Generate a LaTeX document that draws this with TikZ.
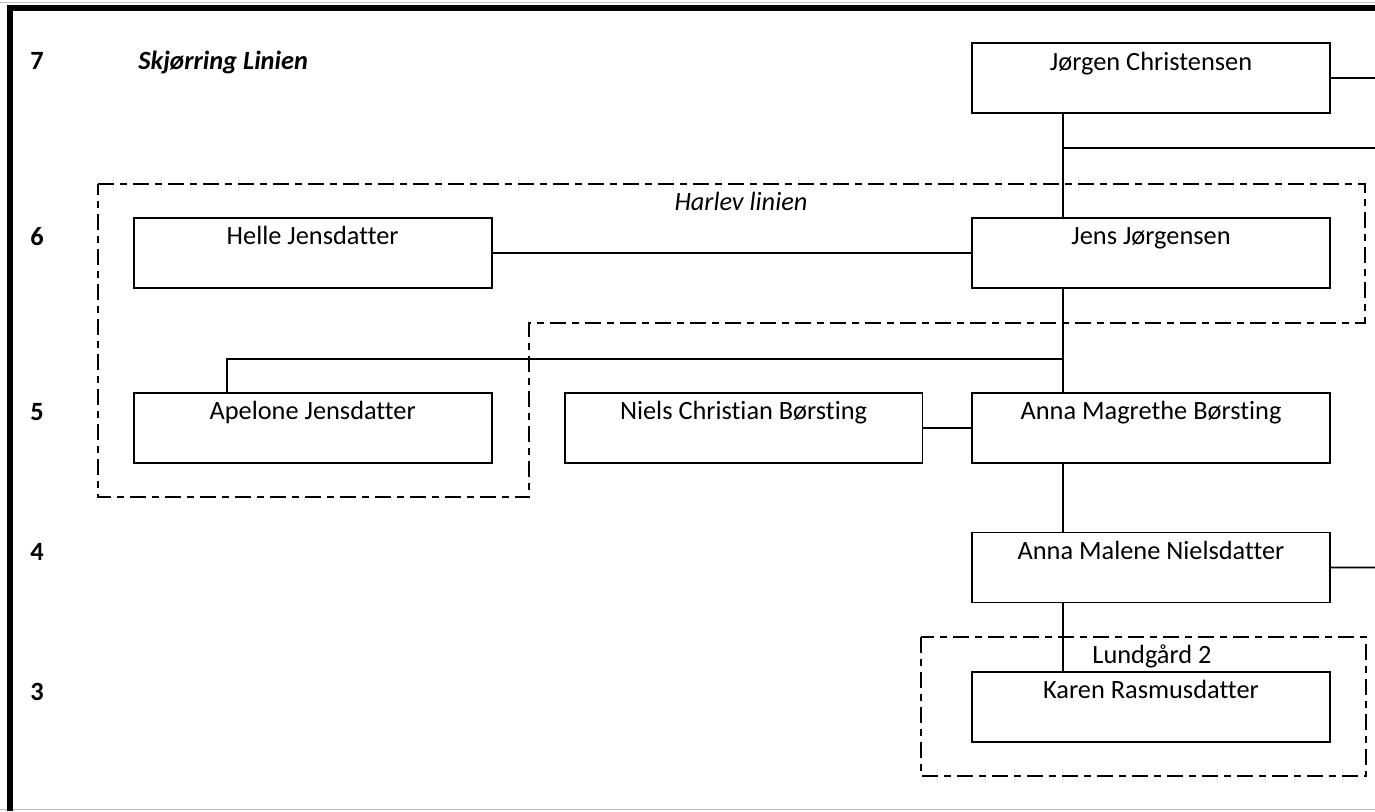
\documentclass[tikz,border=0pt]{standalone}
\usepackage{fontspec}
\setmainfont[Ligatures=NoCommon]{Carlito}
\usepackage{xcolor}
\usepackage{tikz}
\usetikzlibrary{positioning, calc}

\begin{document}
\begin{tikzpicture}[
x=0.02cm, y=-0.02cm,
node distance=3.5cm,
person/.style={rectangle, draw=black, line width=1pt, minimum width=7.16cm, minimum height=1.4cm, inner ysep=0.1cm, text height=0.44cm, text depth=0.76cm, font=\fontsize{15}{18}\selectfont},
gen/.style={anchor=base west, inner sep=0pt, font=\fontsize{15}{18}\selectfont\bfseries},
line/.style={line width=1pt},
group/.style={line width=1.2pt, dash pattern=on 0.32cm off 0.12cm on 0.14cm off 0.12cm}
]
\useasboundingbox (0,0) rectangle (1375,811);

% Frame
\draw[black!25, line width=0.5pt] (0,2) -- (1375,2);
\draw[black!25, line width=0.5pt] (0,809.5) -- (1375,809.5);
\draw[line width=0.12cm] (10,811) -- (10,8.5) -- (1375,8.5);

% Generations
\node[gen] (g7) at (30,70) {7};
\node[gen] (g6) at (30,245) {6};
\node[gen] (g5) at (30,420) {5};
\node[gen] (g4) at (30,560) {4};
\node[gen] (g3) at (30,700) {3};
\node[gen, font=\fontsize{15}{18}\selectfont\bfseries\itshape] (skj) at (138,70) {Skjørring Linien};

% Groups
\draw[group] (98,184) -- (1365,184) -- (1365,323) -- (529,323) -- (529,497) -- (98,497) -- cycle;
\draw[group] (921,637) rectangle (1366,776);
\node[anchor=base, inner sep=0pt, font=\fontsize{15}{18}\selectfont\itshape] (harlev) at (741,210) {Harlev linien};
\node[anchor=base, inner sep=0pt, font=\fontsize{15}{18}\selectfont] (lund) at (1152,663) {Lundgård 2};

% Persons
\node[person] (jorgen) at (1151,78) {Jørgen Christensen};
\node[person, below of=jorgen] (jens) {Jens Jørgensen};
\node[person, left of=jens, xshift=-13.27cm] (helle) {Helle Jensdatter};
\node[person, below of=jens] (annamag) {Anna Magrethe Børsting};
\node[person, left of=annamag, xshift=-4.65cm] (niels) {Niels Christian Børsting};
\node[person, below of=helle] (apelone) {Apelone Jensdatter};
\node[person, below of=annamag, yshift=0.71cm] (malene) {Anna Malene Nielsdatter};
\node[person, below of=malene, yshift=0.71cm] (karen) {Karen Rasmusdatter};

% Free ends
\coordinate (edge7) at (1375,78);
\coordinate (edge6) at (1375,148);
\coordinate (edge4) at (1375,567.5);
\coordinate (fork7) at (1064,148);
\coordinate (fork6) at (1064,359);

% Lines
\draw[line] (jorgen.east) -- (edge7);
\draw[line] ([xshift=1.84cm]jorgen.south west) -- ([xshift=1.84cm]jens.north west);
\draw[line] (fork7) -- (edge6);
\draw[line] (helle.east) -- (jens.west);
\draw[line] ([xshift=1.84cm]jens.south west) -- ([xshift=1.84cm]annamag.north west);
\draw[line] (fork6) -| ([xshift=1.88cm]apelone.north west);
\draw[line] (niels.east) -- (annamag.west);
\draw[line] ([xshift=1.84cm]annamag.south west) -- ([xshift=1.84cm]malene.north west);
\draw[line] (malene.east) -- (edge4);
\draw[line] ([xshift=1.84cm]malene.south west) -- ([xshift=1.84cm]karen.north west);

\end{tikzpicture}
\end{document}
